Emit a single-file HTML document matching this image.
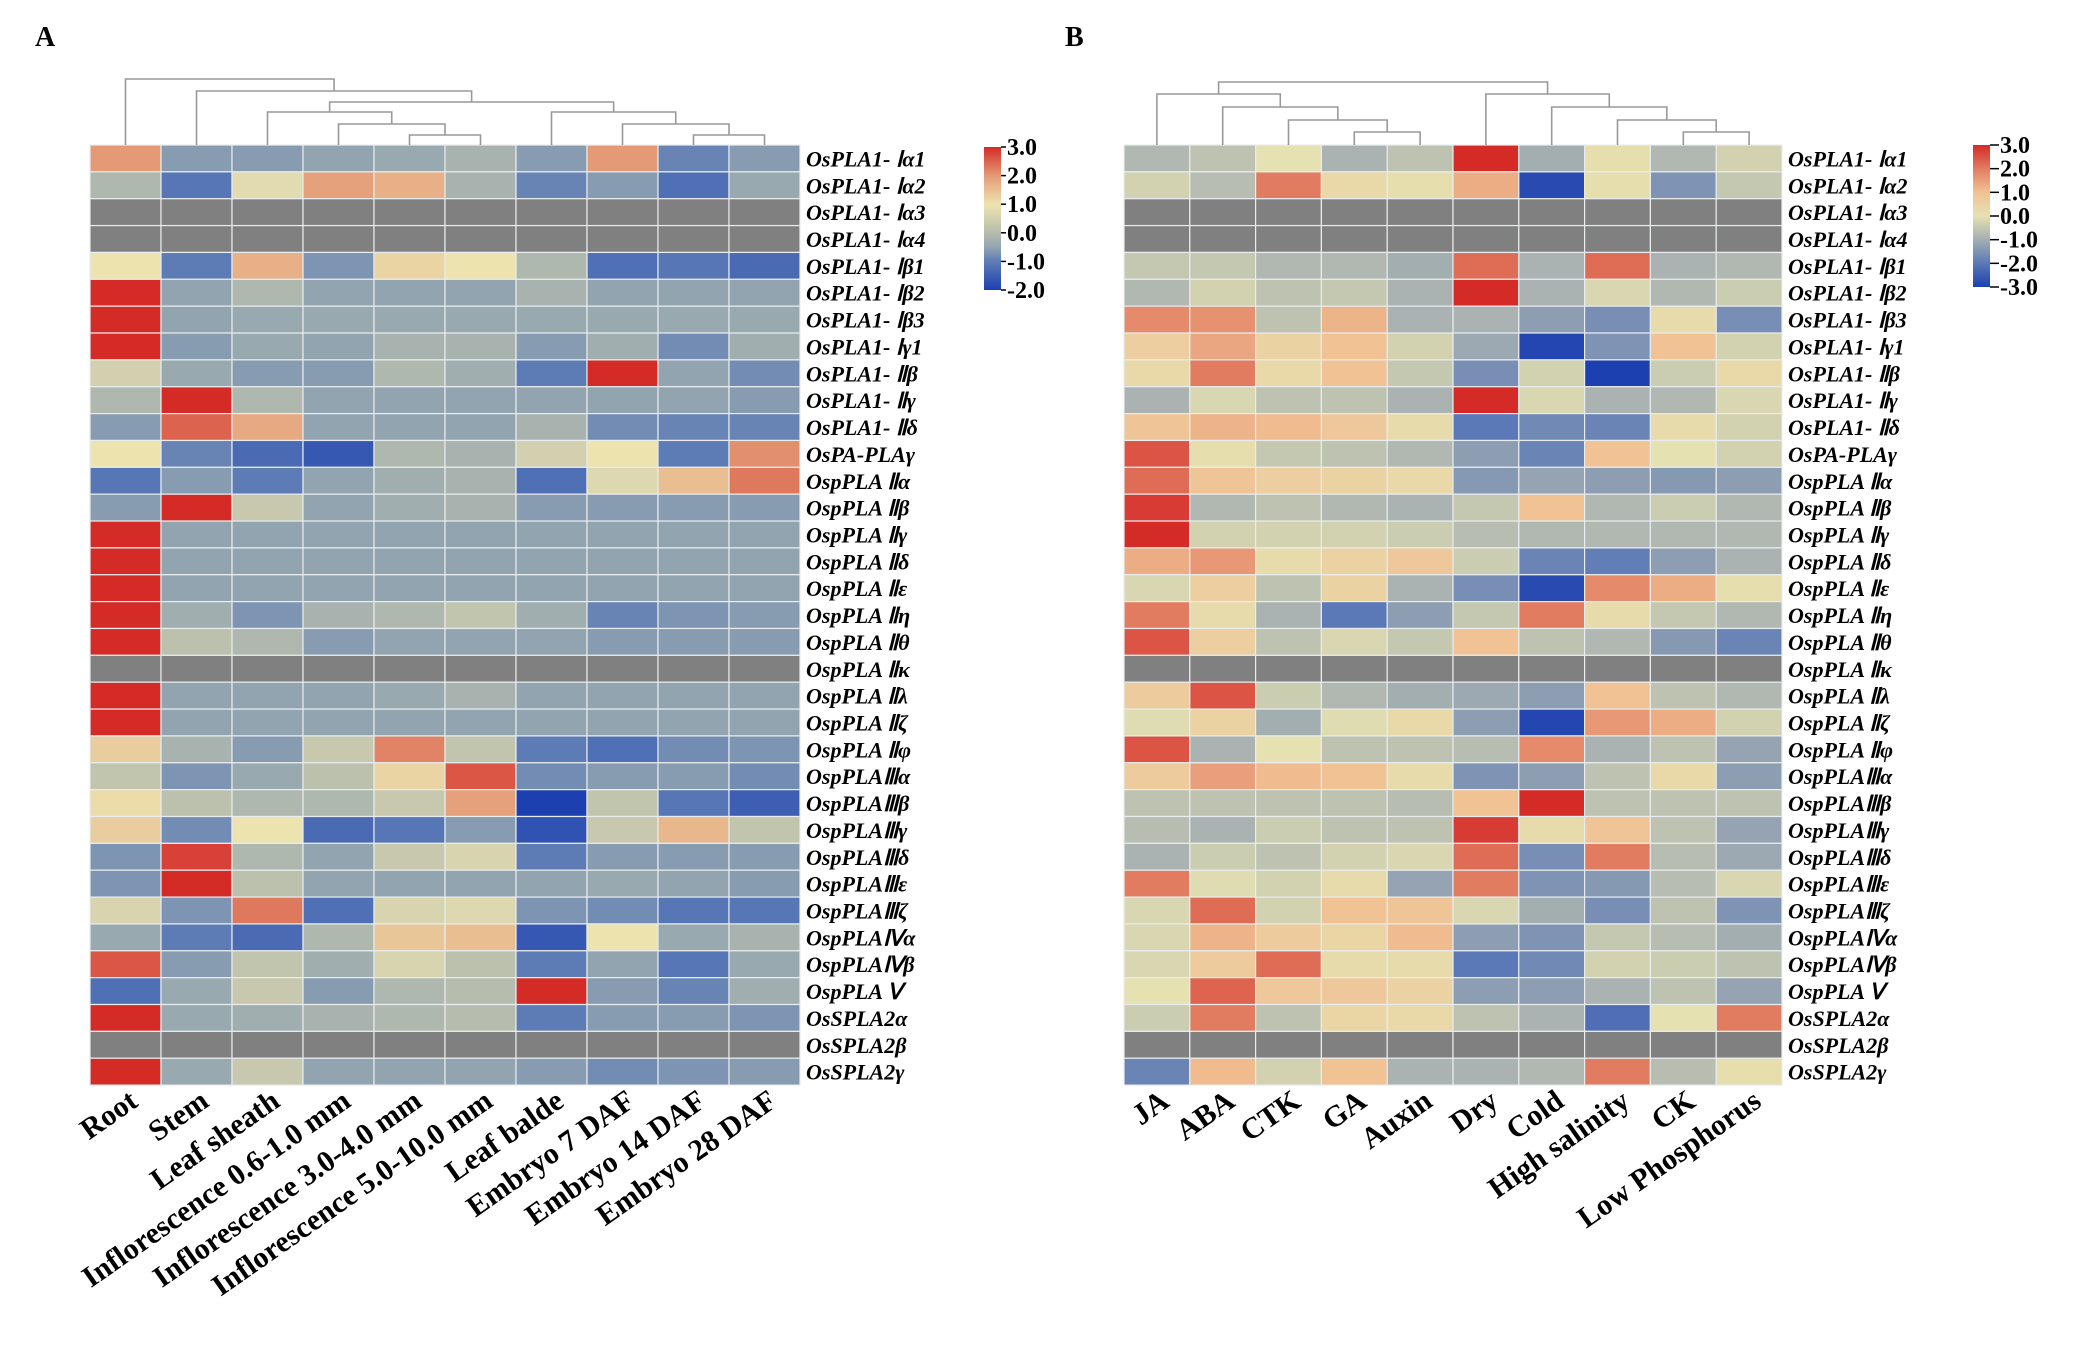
<!DOCTYPE html>
<html><head><meta charset="utf-8"><style>
body{margin:0;background:#fff;}
svg{display:block;}
.rl{font-family:"Liberation Serif",serif;font-style:italic;font-weight:bold;font-size:22px;fill:#000;}
.cl{font-family:"Liberation Serif",serif;font-weight:bold;font-size:30px;fill:#000;}
.tk{font-family:"Liberation Serif",serif;font-weight:bold;font-size:24px;fill:#000;}
.pl{font-family:"Liberation Serif",serif;font-weight:bold;font-size:28px;fill:#000;}
</style></head><body>
<svg id="chart" width="2075" height="1348" viewBox="0 0 2075 1348">
<text class="pl" x="35" y="46">A</text>
<text class="pl" x="1065" y="46">B</text>
</svg>
<script>
const rowLabels=["OsPLA1- Ⅰα1","OsPLA1- Ⅰα2","OsPLA1- Ⅰα3","OsPLA1- Ⅰα4","OsPLA1- Ⅰβ1","OsPLA1- Ⅰβ2","OsPLA1- Ⅰβ3","OsPLA1- Ⅰγ1","OsPLA1- Ⅱβ","OsPLA1- Ⅱγ","OsPLA1- Ⅱδ","OsPA-PLAγ","OspPLA Ⅱα","OspPLA Ⅱβ","OspPLA Ⅱγ","OspPLA Ⅱδ","OspPLA Ⅱε","OspPLA Ⅱη","OspPLA Ⅱθ","OspPLA Ⅱκ","OspPLA Ⅱλ","OspPLA Ⅱζ","OspPLA Ⅱφ","OspPLAⅢα","OspPLAⅢβ","OspPLAⅢγ","OspPLAⅢδ","OspPLAⅢε","OspPLAⅢζ","OspPLAⅣα","OspPLAⅣβ","OspPLA Ⅴ","OsSPLA2α","OsSPLA2β","OsSPLA2γ"];
const colsA=["Root","Stem","Leaf sheath","Inflorescence 0.6-1.0 mm","Inflorescence 3.0-4.0 mm","Inflorescence 5.0-10.0 mm","Leaf balde","Embryo 7 DAF","Embryo 14 DAF","Embryo 28 DAF"];
const colsB=["JA","ABA","CTK","GA","Auxin","Dry","Cold","High salinity","CK","Low Phosphorus"];
const N=null;
const valuesA=[
[2,-0.6,-0.6,-0.5,-0.4,-0.2,-0.6,2,-0.9,-0.6],
[-0.1,-1.1,0.8,1.9,1.7,-0.2,-0.9,-0.6,-1.2,-0.4],
[N,N,N,N,N,N,N,N,N,N],[N,N,N,N,N,N,N,N,N,N],
[1.0,-1.0,1.7,-0.7,1.2,1.0,-0.1,-1.2,-1.1,-1.3],
[3,-0.5,-0.1,-0.5,-0.5,-0.5,-0.2,-0.5,-0.5,-0.5],
[3,-0.5,-0.4,-0.4,-0.4,-0.4,-0.4,-0.4,-0.4,-0.4],
[3,-0.6,-0.4,-0.5,-0.2,-0.2,-0.6,-0.3,-0.8,-0.3],
[0.5,-0.4,-0.6,-0.6,-0.1,-0.3,-1.0,3,-0.5,-0.8],
[-0.1,3,-0.1,-0.5,-0.5,-0.5,-0.5,-0.5,-0.5,-0.6],
[-0.6,2.5,1.8,-0.5,-0.5,-0.5,-0.2,-0.8,-0.9,-0.9],
[1.0,-0.9,-1.3,-1.6,-0.1,-0.2,0.5,1.0,-1.0,2.1],
[-1.1,-0.6,-1.0,-0.5,-0.3,-0.2,-1.2,0.7,1.5,2.3],
[-0.6,3,0.3,-0.5,-0.3,-0.2,-0.6,-0.6,-0.6,-0.6],
[3,-0.5,-0.5,-0.5,-0.5,-0.5,-0.5,-0.5,-0.5,-0.5],
[3,-0.5,-0.5,-0.5,-0.5,-0.5,-0.5,-0.5,-0.5,-0.5],
[3,-0.5,-0.5,-0.5,-0.5,-0.5,-0.5,-0.5,-0.5,-0.5],
[3,-0.3,-0.7,-0.2,-0.1,0.2,-0.3,-0.9,-0.7,-0.6],
[3,0.1,-0.1,-0.6,-0.5,-0.5,-0.5,-0.6,-0.6,-0.6],
[N,N,N,N,N,N,N,N,N,N],
[3,-0.5,-0.5,-0.5,-0.4,-0.2,-0.5,-0.5,-0.5,-0.5],
[3,-0.5,-0.5,-0.5,-0.5,-0.5,-0.5,-0.5,-0.5,-0.5],
[1.3,-0.2,-0.6,0.3,2.2,0.2,-1.0,-1.2,-0.8,-0.7],
[0.2,-0.7,-0.4,0.1,1.2,2.6,-0.8,-0.6,-0.6,-0.8],
[1.1,0.1,-0.1,-0.1,0.3,1.9,-2.0,0.2,-1.1,-1.5],
[1.3,-0.8,1.0,-1.3,-1.1,-0.6,-1.7,0.3,1.6,0.2],
[-0.7,2.8,-0.1,-0.5,0.3,0.6,-1.0,-0.6,-0.6,-0.6],
[-0.7,3,0.1,-0.5,-0.5,-0.5,-0.5,-0.4,-0.5,-0.6],
[0.6,-0.7,2.3,-1.2,0.6,0.7,-0.7,-0.8,-1.1,-1.1],
[-0.4,-1.0,-1.3,-0.1,1.4,1.5,-1.6,1.0,-0.4,-0.2],
[2.6,-0.6,0.2,-0.3,0.6,0.1,-1.0,-0.5,-1.1,-0.4],
[-1.2,-0.4,0.3,-0.6,-0.1,0.0,3,-0.6,-0.9,-0.3],
[3,-0.4,-0.3,-0.2,-0.1,0.0,-1.0,-0.6,-0.6,-0.7],
[N,N,N,N,N,N,N,N,N,N],
[3,-0.4,0.3,-0.5,-0.5,-0.5,-0.6,-0.8,-0.7,-0.6]];
const valuesB=[
[-0.8,-0.6,0,-0.9,-0.6,3,-1.0,0.1,-0.8,-0.3],
[-0.3,-0.7,2,0.3,0.1,1.3,-2.8,0.1,-1.5,-0.5],
[N,N,N,N,N,N,N,N,N,N],[N,N,N,N,N,N,N,N,N,N],
[-0.5,-0.5,-0.8,-0.8,-1.0,2.2,-0.9,2.2,-0.9,-0.8],
[-0.8,-0.3,-0.6,-0.5,-0.9,3,-0.9,-0.2,-0.8,-0.4],
[1.8,1.7,-0.6,1.2,-0.9,-0.9,-1.3,-1.6,0.2,-1.6],
[0.6,1.4,0.5,1.0,-0.3,-1.1,-2.9,-1.5,1.0,-0.3],
[0.3,2,0.3,1.0,-0.5,-1.6,-0.3,-3,-0.4,0.3],
[-0.9,-0.2,-0.6,-0.6,-0.9,3,-0.2,-0.9,-0.8,-0.2],
[0.9,1.2,1.1,0.8,0.2,-2.0,-1.7,-1.8,0.2,-0.3],
[2.5,0.1,-0.5,-0.6,-0.8,-1.3,-1.8,1.0,0.0,-0.3],
[2.2,0.9,0.6,0.5,0.3,-1.4,-1.2,-1.3,-1.4,-1.3],
[2.8,-0.8,-0.6,-0.8,-0.9,-0.5,1.0,-0.8,-0.4,-0.8],
[3,-0.3,-0.3,-0.3,-0.4,-0.7,-0.8,-0.8,-0.8,-0.8],
[1.3,1.6,0.2,0.5,0.8,-0.4,-1.8,-1.9,-1.3,-0.9],
[-0.2,0.6,-0.6,0.5,-0.9,-1.6,-2.8,1.8,1.3,0.1],
[2.0,0.2,-0.9,-2.0,-1.3,-0.5,2.0,0.2,-0.5,-0.8],
[2.5,0.6,-0.6,-0.2,-0.5,1.0,-0.6,-0.8,-1.4,-1.8],
[N,N,N,N,N,N,N,N,N,N],
[0.7,2.5,-0.4,-0.8,-1.0,-1.1,-1.3,1.0,-0.6,-0.8],
[-0.1,0.5,-1.0,-0.1,0.3,-1.3,-2.9,1.6,1.3,-0.3],
[2.5,-0.9,0.0,-0.6,-0.6,-0.7,1.8,-0.9,-0.6,-1.2],
[0.7,1.5,1.1,1.0,0.2,-1.5,-1.3,-0.6,0.3,-1.3],
[-0.6,-0.6,-0.6,-0.6,-0.7,1.0,3,-0.6,-0.6,-0.6],
[-0.7,-0.9,-0.4,-0.6,-0.6,2.8,0.2,0.9,-0.6,-1.2],
[-0.9,-0.4,-0.6,-0.3,-0.2,2.2,-1.6,2.0,-0.7,-1.1],
[2.0,-0.1,-0.3,0.2,-1.2,2.0,-1.5,-1.4,-0.7,-0.2],
[-0.2,2.2,-0.3,1.0,0.9,-0.2,-1.0,-1.6,-0.6,-1.5],
[-0.2,1.2,0.7,0.4,1.1,-1.3,-1.5,-0.5,-0.7,-1.0],
[-0.2,0.7,2.2,0.2,0.2,-2.0,-1.7,-0.3,-0.4,-0.6],
[0.0,2.3,0.8,0.8,0.5,-1.3,-1.3,-0.9,-0.6,-1.2],
[-0.4,2.0,-0.6,0.4,0.3,-0.6,-0.9,-2.2,0.0,2.0],
[N,N,N,N,N,N,N,N,N,N],
[-1.8,1.1,-0.3,1.0,-0.9,-0.9,-0.8,2.0,-0.7,0.1]];
const ticksA=["3.0","2.0","1.0","0.0","-1.0","-2.0"];
const ticksB=["3.0","2.0","1.0","0.0","-1.0","-2.0","-3.0"];

const NS="http://www.w3.org/2000/svg";
const svg=document.getElementById('chart');
function mk(tag,attrs,parent){const e=document.createElementNS(NS,tag);for(const k in attrs)e.setAttribute(k,attrs[k]);(parent||svg).appendChild(e);return e;}
function hex(h){return [parseInt(h.slice(1,3),16),parseInt(h.slice(3,5),16),parseInt(h.slice(5,7),16)];}
function colorScale(stops){const cs=stops.map(s=>[s[0],hex(s[1])]);return v=>{
  if(v<=cs[0][0])v=cs[0][0]; if(v>=cs[cs.length-1][0])v=cs[cs.length-1][0];
  let i=0;while(i<cs.length-2&&v>cs[i+1][0])i++;
  const f=(v-cs[i][0])/(cs[i+1][0]-cs[i][0]);
  const c=cs[i][1].map((a,k)=>Math.round(a+(cs[i+1][1][k]-a)*f));return `rgb(${c[0]},${c[1]},${c[2]})`;};}
const stopsA=[[-2,"#1d40b0"],[-1,"#5d7cb6"],[-0.5,"#92a4b0"],[0,"#b6bdae"],[1,"#ede3af"],[2,"#e49a75"],[3,"#d42b27"]];
const stopsB=[[-3,"#1d40b0"],[-2,"#5b79b6"],[-1,"#a3aeb1"],[0,"#e6e1b1"],[1,"#f0c294"],[2,"#e27c61"],[3,"#d42b27"]];

function drawPanel(p){
  const g=mk('g',{});
  
  
  const cw=(p.x1-p.x0)/p.cols.length, rh=26.86, top=145;
  const xs=i=>p.x0+cw*i, ys=j=>top+rh*j;
  const col=colorScale(p.stops);
  p.values.forEach((row,j)=>row.forEach((v,i)=>{
    const r=mk('rect',{x:xs(i),y:ys(j),width:cw,height:rh,fill:v===null?'#808080':col(v),stroke:'#e8ecee','stroke-width':1.2},g);
    
    
  }));
  rowLabels.forEach((l,j)=>{const t=mk('text',{class:'rl',x:p.x1+6,y:ys(j)+rh/2+8},g);t.textContent=l;
    
    });
  p.cols.forEach((l,i)=>{const cx=xs(i)+cw/2+14, cy=top+rh*35+20;
    const t=mk('text',{class:'cl',x:cx,y:cy,'text-anchor':'end',transform:`rotate(-35 ${cx} ${cy})`},g);t.textContent=l;
    
    });
  const dg=mk('g',{stroke:'#999','stroke-width':1.6,fill:'none'},g);
  
  
  function node(n){ if(typeof n==='number') return {x:xs(n)+cw/2,y:top};
    const a=node(n[0]),b=node(n[1]);
    mk('path',{d:`M${a.x},${a.y}V${n[2]}H${b.x}V${b.y}`},dg);
    return {x:(a.x+b.x)/2,y:n[2]};}
  node(p.tree);
  const cb=mk('g',{},g);
  
  
  const gid='grad'+p.name;
  const lg=mk('linearGradient',{id:gid,x1:0,y1:1,x2:0,y2:0},cb);
  const lo=p.stops[0][0], hi=p.stops[p.stops.length-1][0];
  p.stops.forEach(s=>mk('stop',{offset:(s[0]-lo)/(hi-lo),'stop-color':s[1]},lg));
  mk('rect',{x:p.cb[0],y:p.cb[3],width:p.cb[1],height:p.cb[2],fill:`url(#${gid})`},cb);
  p.ticks.forEach((t,k)=>{const y=p.cb[3]+p.cb[2]*k/(p.ticks.length-1);
    mk('line',{x1:p.cb[0]+p.cb[1],x2:p.cb[0]+p.cb[1]+p.tl,y1:y,y2:y,stroke:'#000','stroke-width':1.5},cb);
    const tx=mk('text',{class:'tk',x:p.cb[0]+p.cb[1]+p.tl+1,y:y+8},cb);tx.textContent=t;
    
    });
}
drawPanel({name:'panel-a',x0:90,x1:800,cols:colsA,values:valuesA,stops:stopsA,ticks:ticksA,cb:[984,17,143,147],tl:5,
  tree:[0,[1,[[2,[3,[4,5,135],124],112],[6,[7,[8,9,135],124],112],102],91],79]});
drawPanel({name:'panel-b',x0:1124,x1:1782,cols:colsB,values:valuesB,stops:stopsB,ticks:ticksB,cb:[1973,17,142,145],tl:9,
  tree:[[0,[1,[2,[3,4,132],120],107],94],[5,[6,[7,[8,9,132],120],107],94],82]});
</script>
</body></html>
